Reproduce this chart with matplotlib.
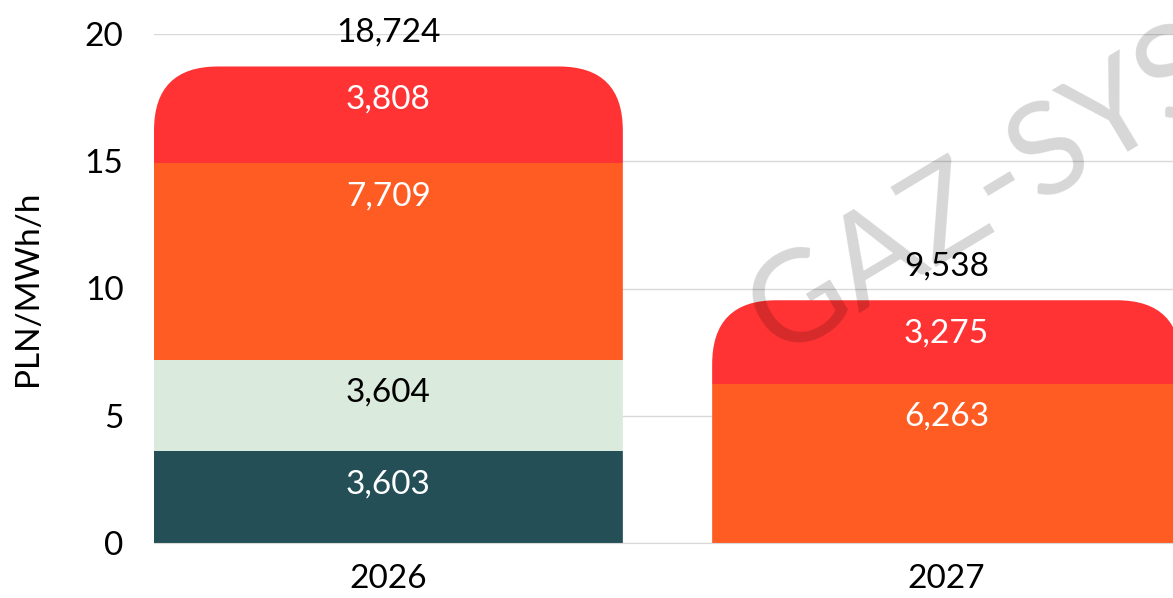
import numpy as np
import matplotlib.pyplot as plt
from matplotlib.patches import FancyBboxPatch

years = ["2026", "2027"]
teal = [3.603, 0.0]
light_green = [3.604, 0.0]
orange = [7.709, 6.263]
red = [3.808, 3.275]

series = [teal, light_green, orange, red]
colors = ["#244F57", "#DAEBDD", "#FF5C24", "#FF3333"]
text_colors = ["white", "black", "white", "white"]

plt.rcParams['font.family'] = ['Lato', 'DejaVu Sans']

def fmt(v):
    return f"{v:.3f}".replace(".", ",")

fig = plt.figure(figsize=(11.73, 5.98), dpi=100)
ax = fig.add_axes([154 / 1173, 55 / 598, 1027 / 1173, 509 / 598])

x = np.arange(len(years))
width = 0.84
bottom = np.zeros(len(years))
totals = np.sum(series, axis=0)

# clip shapes: rounded top corners (about 64 px radius)
rx = 64 / 558
ry = 64 / 25.45
clips = []
for i in range(len(years)):
    p = FancyBboxPatch((x[i] - width / 2, -10), width, totals[i] + 10,
                       boxstyle=f"round,pad=0,rounding_size={rx}",
                       mutation_aspect=ry / rx, transform=ax.transData,
                       facecolor="none", edgecolor="none")
    ax.add_patch(p)
    clips.append(p)

for vals, c, tc in zip(series, colors, text_colors):
    bars = ax.bar(x, vals, width, bottom=bottom, color=c, zorder=2)
    for i, b in enumerate(bars):
        b.set_clip_path(clips[i])
        if vals[i] > 0:
            ax.annotate(fmt(vals[i]), (x[i], bottom[i] + vals[i]), xytext=(0, -33),
                        textcoords="offset pixels", ha="center", va="center",
                        color=tc, fontsize=24, zorder=4)
    bottom = bottom + np.array(vals)

for i in range(len(years)):
    ax.annotate(fmt(totals[i]), (x[i], totals[i]), xytext=(0, 34),
                textcoords="offset pixels", ha="center", va="center",
                color="black", fontsize=24, annotation_clip=False)

ax.set_xlim(-0.42, 1.42)
ax.set_ylim(0, 20)
ax.set_yticks([0, 5, 10, 15, 20])
ax.set_xticks(x)
ax.set_xticklabels(years)
ax.tick_params(axis="both", length=0, labelsize=24)
ax.tick_params(axis="y", pad=22)
ax.tick_params(axis="x", pad=15)
ax.yaxis.grid(True, color="#D9D9D9", lw=1, zorder=0)
ax.set_axisbelow(True)
for s in ["top", "right", "left"]:
    ax.spines[s].set_visible(False)
ax.spines["bottom"].set_color("#D9D9D9")
ax.set_ylabel("PLN/MWh/h", fontsize=24, labelpad=30)

fig.text(0.622, 0.37, "GAZ-SYSTEM", fontsize=92, rotation=31, color="black",
         alpha=0.16, ha="left", va="bottom", zorder=10)

fig.savefig("out.png", dpi=100)
